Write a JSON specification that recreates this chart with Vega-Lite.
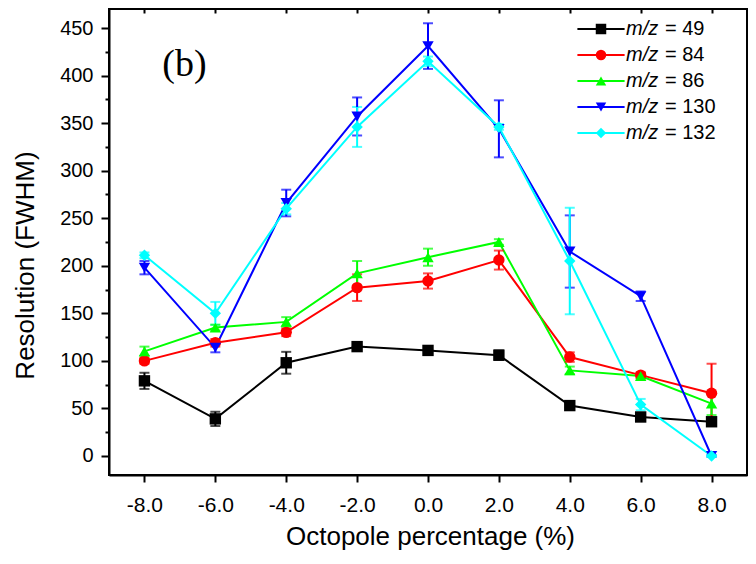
{
  "$schema": "https://vega.github.io/schema/vega-lite/v6.json",
  "width": 638,
  "height": 466,
  "autosize": "none",
  "padding": {"left": 109, "top": 9, "right": 9, "bottom": 89},
  "background": "white",
  "config": {
    "view": {"stroke": "black", "strokeWidth": 2},
    "font": "Liberation Sans",
    "axis": {
      "grid": false,
      "domainColor": "black",
      "domainWidth": 2,
      "tickColor": "black",
      "tickWidth": 2,
      "labelColor": "black",
      "titleColor": "black",
      "labelFont": "Liberation Sans",
      "titleFont": "Liberation Sans",
      "titleFontWeight": "normal"
    }
  },
  "data": {
    "values": [
      {"series": "49", "x": -8, "y": 79, "err": 8.5},
      {"series": "49", "x": -6, "y": 39, "err": 7.5},
      {"series": "49", "x": -4, "y": 98, "err": 11.5},
      {"series": "49", "x": -2, "y": 115, "err": 2},
      {"series": "49", "x": 0, "y": 111, "err": 4},
      {"series": "49", "x": 2, "y": 106, "err": 5},
      {"series": "49", "x": 4, "y": 53, "err": 2},
      {"series": "49", "x": 6, "y": 41, "err": 3},
      {"series": "49", "x": 8, "y": 36, "err": 3},
      {"series": "84", "x": -8, "y": 100, "err": 3},
      {"series": "84", "x": -6, "y": 119, "err": 4},
      {"series": "84", "x": -4, "y": 130, "err": 4},
      {"series": "84", "x": -2, "y": 177, "err": 14},
      {"series": "84", "x": 0, "y": 184, "err": 8},
      {"series": "84", "x": 2, "y": 206, "err": 10},
      {"series": "84", "x": 4, "y": 104, "err": 5},
      {"series": "84", "x": 6, "y": 85, "err": 3},
      {"series": "84", "x": 8, "y": 66, "err": 31},
      {"series": "86", "x": -8, "y": 110, "err": 5},
      {"series": "86", "x": -6, "y": 135, "err": 3},
      {"series": "86", "x": -4, "y": 141, "err": 5},
      {"series": "86", "x": -2, "y": 192, "err": 13},
      {"series": "86", "x": 0, "y": 209, "err": 9},
      {"series": "86", "x": 2, "y": 225, "err": 3},
      {"series": "86", "x": 4, "y": 90, "err": 4},
      {"series": "86", "x": 6, "y": 84, "err": 3},
      {"series": "86", "x": 8, "y": 55, "err": 12},
      {"series": "130", "x": -8, "y": 198, "err": 7},
      {"series": "130", "x": -6, "y": 114, "err": 5},
      {"series": "130", "x": -4, "y": 266, "err": 14},
      {"series": "130", "x": -2, "y": 357, "err": 20},
      {"series": "130", "x": 0, "y": 431, "err": 24},
      {"series": "130", "x": 2, "y": 344, "err": 30},
      {"series": "130", "x": 4, "y": 215, "err": 38},
      {"series": "130", "x": 6, "y": 168, "err": 5},
      {"series": "130", "x": 8, "y": 0, "err": 1},
      {"series": "132", "x": -8, "y": 211, "err": 3},
      {"series": "132", "x": -6, "y": 150, "err": 12},
      {"series": "132", "x": -4, "y": 260, "err": 6},
      {"series": "132", "x": -2, "y": 346, "err": 21},
      {"series": "132", "x": 0, "y": 415, "err": 5},
      {"series": "132", "x": 2, "y": 346, "err": 3},
      {"series": "132", "x": 4, "y": 205, "err": 56},
      {"series": "132", "x": 6, "y": 54, "err": 6},
      {"series": "132", "x": 8, "y": 0, "err": 1}
    ]
  },
  "resolve": {"axis": {"x": "independent", "y": "independent"}},
  "layer": [
    {
      "mark": {"type": "line", "strokeWidth": 2},
      "encoding": {
        "x": {
          "field": "x", "type": "quantitative",
          "scale": {"domain": [-9, 9], "nice": false, "zero": false},
          "axis": {
            "values": [-8, -6, -4, -2, 0, 2, 4, 6, 8],
            "labelExpr": "(datum.value < 0 ? '-' : '') + format(abs(datum.value), '.1f')",
            "labelFontSize": 21,
            "tickSize": 7,
            "labelPadding": 12,
            "title": "Octopole percentage (%)",
            "titleFontSize": 26,
            "titleX": 321,
            "titleY": 69,
            "titleAlign": "center",
            "titleBaseline": "alphabetic"
          }
        },
        "y": {
          "field": "y", "type": "quantitative",
          "scale": {"domain": [-20, 470], "nice": false, "zero": false},
          "axis": {
            "values": [0, 25, 50, 75, 100, 125, 150, 175, 200, 225, 250, 275, 300, 325, 350, 375, 400, 425, 450],
            "labelExpr": "datum.value % 50 === 0 ? datum.label : ''",
            "labelOverlap": false,
            "labelFontSize": 20,
            "labelPadding": 8,
            "tickSize": {"condition": {"test": "datum.value % 50 === 0", "value": 8}, "value": 4},
            "title": "Resolution (FWHM)",
            "titleFontSize": 26,
            "titleX": -76,
            "titleY": 256,
            "titleAngle": -90,
            "titleAlign": "center",
            "titleBaseline": "alphabetic"
          }
        },
        "stroke": {
          "field": "series", "type": "nominal",
          "sort": ["49", "84", "86", "130", "132"],
          "scale": {"range": ["#000000", "#ff0000", "#00ff00", "#0000ff", "#00ffff"]},
          "legend": {
            "orient": "none", "legendX": 482, "legendY": 10, "title": null, "padding": 0,
            "symbolType": "M-4.5,0H4.5", "symbolSize": 110, "symbolStrokeWidth": 2,
            "labelExpr": "'m/z'", "labelFontStyle": "italic", "labelFontSize": 20,
            "labelFont": "Liberation Sans", "labelColor": "black",
            "labelOffset": 15, "rowPadding": 6
          }
        }
      }
    },
    {
      "mark": {"type": "errorbar", "ticks": {"size": 10, "thickness": 2}, "thickness": 2},
      "encoding": {
        "x": {
          "field": "x", "type": "quantitative",
          "scale": {"domain": [-9, 9], "nice": false, "zero": false},
          "axis": {"orient": "top", "labels": false, "title": null, "tickSize": -4, "domain": false,
                   "values": [-8, -6, -4, -2, 0, 2, 4, 6, 8]}
        },
        "y": {
          "field": "y", "type": "quantitative",
          "scale": {"domain": [-20, 470], "nice": false, "zero": false},
          "axis": null
        },
        "yError": {"field": "err"},
        "color": {
          "field": "series", "type": "nominal",
          "scale": {"domain": ["49", "84", "86", "130", "132"], "range": ["#000000", "#ff0000", "#00ff00", "#0000ff", "#00ffff"]},
          "legend": {
            "orient": "none", "legendX": 482, "legendY": 10, "title": null, "padding": 0,
            "symbolSize": 110, "symbolStrokeWidth": 0, "symbolOpacity": 1,
            "labelExpr": "'= ' + datum.label", "labelFontSize": 20,
            "labelFont": "Liberation Sans", "labelColor": "black",
            "labelOffset": 54, "rowPadding": 6
          }
        }
      }
    },
    {
      "mark": {"type": "point", "filled": true, "size": 130, "opacity": 1},
      "encoding": {
        "x": {"field": "x", "type": "quantitative", "scale": {"domain": [-9, 9], "nice": false, "zero": false}, "axis": null},
        "y": {"field": "y", "type": "quantitative", "scale": {"domain": [-20, 470], "nice": false, "zero": false}, "axis": null},
        "color": {
          "field": "series", "type": "nominal",
          "scale": {"domain": ["49", "84", "86", "130", "132"], "range": ["#000000", "#ff0000", "#00ff00", "#0000ff", "#00ffff"]},
          "legend": {
            "orient": "none", "legendX": 482, "legendY": 10, "title": null, "padding": 0,
            "symbolSize": 110, "symbolStrokeWidth": 0, "symbolOpacity": 1,
            "labelExpr": "'= ' + datum.label", "labelFontSize": 20,
            "labelFont": "Liberation Sans", "labelColor": "black",
            "labelOffset": 54, "rowPadding": 6
          }
        },
        "shape": {
          "field": "series", "type": "nominal",
          "scale": {"domain": ["49", "84", "86", "130", "132"], "range": ["square", "circle", "triangle-up", "triangle-down", "diamond"]},
          "legend": {
            "orient": "none", "legendX": 482, "legendY": 10, "title": null, "padding": 0,
            "symbolSize": 110, "symbolStrokeWidth": 0, "symbolOpacity": 1,
            "labelExpr": "'= ' + datum.label", "labelFontSize": 20,
            "labelFont": "Liberation Sans", "labelColor": "black",
            "labelOffset": 54, "rowPadding": 6
          }
        }
      }
    },
    {
      "data": {"values": [{"label": "(b)"}]},
      "mark": {"type": "text", "font": "Liberation Serif", "fontSize": 38, "align": "center", "baseline": "middle", "color": "black"},
      "encoding": {
        "x": {"datum": -6.87, "type": "quantitative", "scale": {"domain": [-9, 9], "nice": false, "zero": false}, "axis": null},
        "y": {"datum": 411, "type": "quantitative", "scale": {"domain": [-20, 470], "nice": false, "zero": false}, "axis": null},
        "text": {"field": "label"}
      }
    }
  ]
}
